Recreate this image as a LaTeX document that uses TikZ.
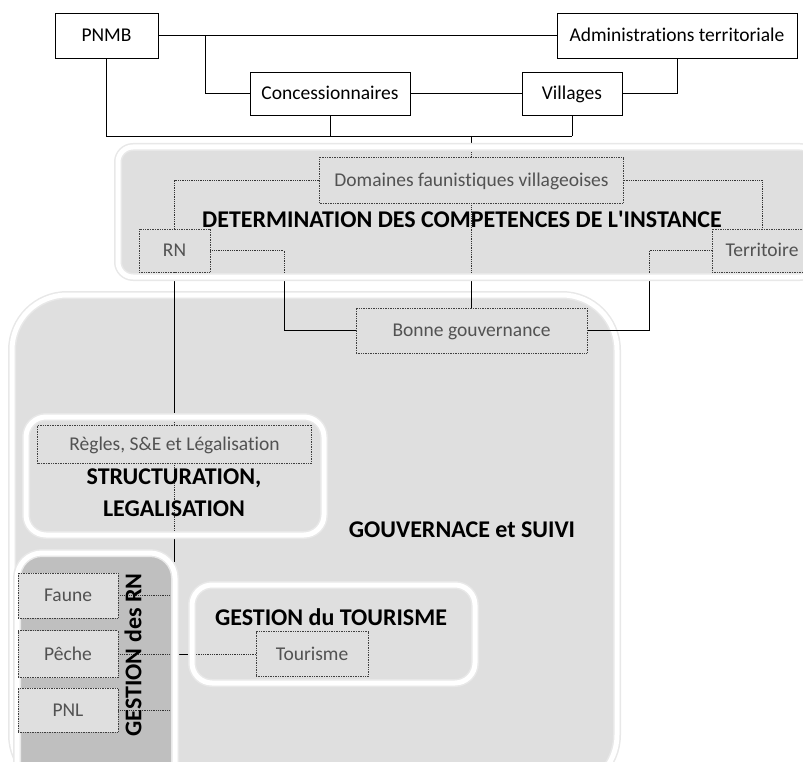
\documentclass[tikz,border=0pt]{standalone}
\usepackage{fontspec}
\setmainfont{Carlito}[Ligatures=NoCommon]
\usetikzlibrary{calc}
\pgfdeclarelayer{bottom}\pgfdeclarelayer{back}\pgfdeclarelayer{mid}
\pgfsetlayers{bottom,back,mid,main}
\tikzset{
 topbox/.style={draw=black, line width=0.8pt, fill=white, inner sep=0pt, text height=12.5pt, text depth=0pt, font=\fontsize{19.5}{22}\selectfont},
 inbox/.style={draw=black!75, densely dotted, line width=0.7pt, fill=gray!25, text=black!68, inner sep=0pt, text height=12.5pt, text depth=0pt, font=\fontsize{19.5}{22}\selectfont},
 conn/.style={draw=black, line width=0.8pt},
 conndot/.style={draw=black!80, densely dotted, line width=0.8pt},
 head/.style={font=\bfseries\fontsize{24}{28}\selectfont, text=black, align=center},
}
\newcommand\allconns[1]{%
 \draw[#1] (pnmb.east) -- (admin.west);
 \draw[#1] (j1) |- (conc.west);
 \draw[#1] (conc.east) -- (vill.west);
 \draw[#1] (vill.east) -| (admin.south);
 \draw[#1] (pnmb.south) |- (j2);
 \draw[#1] (conc.south) -- (conc.south |- j2);
 \draw[#1] (vill.south) -- (j2);
 \draw[#1] (j3) -- (dom.north);
 \draw[#1] (dom.south) -- (bonne.north);
 \draw[#1] (dom.west) -| (rn.north);
 \draw[#1] (dom.east) -| (terr.north);
 \draw[#1] (rn.east) -- (j4) |- (bonne.west);
 \draw[#1] (terr.west) -- (j5) |- (bonne.east);
 \draw[#1] (rn.south) -- (regles.north);
 \draw[#1] (regles.south) -- (j6);
 \draw[#1] (faune.east) -- (j7);
 \draw[#1] (peche.east) -- (tour.west);
 \draw[#1] (pnl.east) -- (j8);
}
\newcommand\myContFrame[3]{%
 \draw[gray!18, line width=8pt, rounded corners=#1] (#2) rectangle (#3);
 \draw[white, line width=5pt, rounded corners=#1] (#2) rectangle (#3);
}
\newcommand\myContainer[4]{%
 \fill[#1, rounded corners=#2] (#3) rectangle (#4);
 \begin{scope}
  \clip[rounded corners=#2] (#3) rectangle (#4);
  \allconns{conndot}
 \end{scope}
 \myContFrame{#2}{#3}{#4}
}
\begin{document}
\begin{tikzpicture}[x=1pt,y=-1pt]
\useasboundingbox (0,0) rectangle (803,762);
% top boxes
\node[topbox, minimum width=103pt, minimum height=45pt] (pnmb) at (106.5,35.5) {PNMB};
\node[topbox, minimum width=240pt, minimum height=45pt] (admin) at (677,35.5) {Administrations territoriale};
\node[topbox, minimum width=160pt, minimum height=43pt] (conc) at (330,93.5) {Concessionnaires};
\node[topbox, minimum width=100pt, minimum height=43pt] (vill) at (572,93.5) {Villages};
% inner boxes
\node[inbox, minimum width=304pt, minimum height=46pt] (dom) at (471.5,180) {Domaines faunistiques villageoises};
\node[inbox, minimum width=71pt, minimum height=43pt] (rn) at (174.5,250.5) {RN};
\node[inbox, minimum width=100pt, minimum height=43pt] (terr) at (762,250.5) {Territoire};
\node[inbox, minimum width=231pt, minimum height=45pt] (bonne) at (471.5,330.5) {Bonne gouvernance};
\node[inbox, minimum width=274pt, minimum height=38pt] (regles) at (174.5,444) {R\`egles, S\&E et L\'egalisation};
\node[inbox, minimum width=100pt, minimum height=45pt] (faune) at (68,595.5) {Faune};
\node[inbox, minimum width=100pt, minimum height=47pt] (peche) at (68,654) {P\^eche};
\node[inbox, minimum width=100pt, minimum height=44pt] (pnl) at (68,710) {PNL};
\node[inbox, minimum width=112pt, minimum height=45pt] (tour) at (312,654) {Tourisme};
% junctions
\coordinate (j1) at (205,35.5);
\coordinate (j2) at (572,136);
\coordinate (j3) at (471.5,136);
\coordinate (j4) at (284,250.5);
\coordinate (j5) at (649,250.5);
\coordinate (j6) at (174.5,562);
\coordinate (j7) at (172,595.5);
\coordinate (j8) at (172,710);
% headings
\node[head] (hdet) at (462,219) {DETERMINATION DES COMPETENCES DE L\textquotesingle INSTANCE};
\node[head] (hstr) at (174,493) {STRUCTURATION,\\[4pt]LEGALISATION};
\node[head] (hgov) at (462,530) {GOUVERNACE et SUIVI};
\node[head, rotate=90] (hrn) at (133,655) {GESTION des RN};
\node[head] (htour) at (331,617) {GESTION du TOURISME};
\begin{pgfonlayer}{bottom}
 \fill[gray!25, rounded corners=55pt] (12,295) rectangle (617,790);
 \myContFrame{55pt}{12,295}{617,790}
\end{pgfonlayer}
\begin{pgfonlayer}{back}
 \allconns{conn}
\end{pgfonlayer}
\begin{pgfonlayer}{mid}
 \myContainer{gray!25}{15pt}{118,147}{815,277}
 \myContainer{gray!25}{20pt}{26,417}{324,535}
 \myContainer{gray!50}{25pt}{17,553}{175,790}
 \myContainer{gray!25}{20pt}{192,585}{475,683}
\end{pgfonlayer}
\end{tikzpicture}
\end{document}
